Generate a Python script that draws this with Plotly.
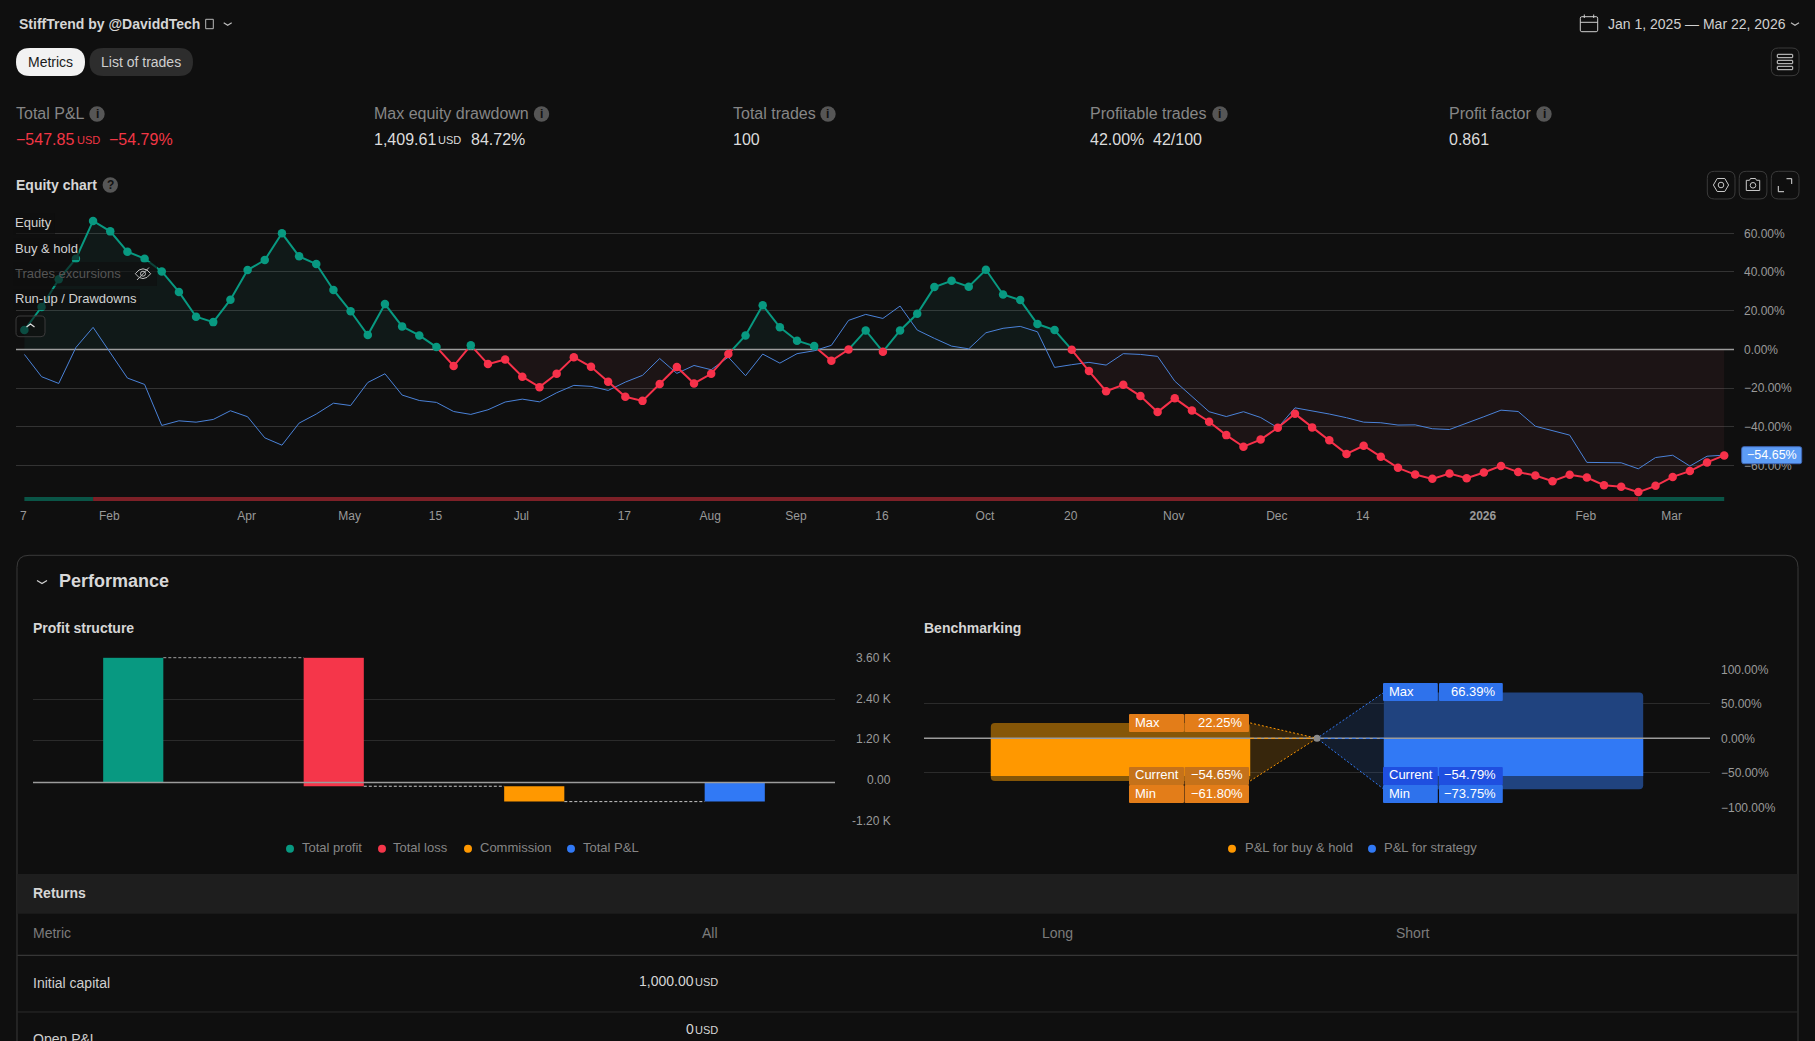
import numpy as np
import plotly.graph_objects as go

W, H = 1815, 1041
BG = "#0f0f0f"
GRID = "#333333"
GRID2 = "#2b2b2b"
ZERO = "#9c9c9c"
TICK = "#9a9a9a"
GREEN = "#089981"
RED = "#f7314a"
ORANGE = "#ff9800"
BLUE = "#3179f5"

# equity chart, one point per trade
equity = [10.0, 21.9, 36.2, 46.9, 66.39, 61.0, 50.5, 46.9, 40.3, 29.7,
          16.9, 14.1, 25.7, 41.0, 46.2, 60.0, 48.1, 44.1, 30.7, 19.7,
          7.4, 23.4, 11.9, 7.2, 1.2, -8.6, 2.1, -7.6, -5.2, -14.1,
          -19.5, -12.6, -4.0, -9.0, -16.7, -24.5, -26.6, -17.9, -9.1, -17.6,
          -12.6, -2.4, 7.2, 22.8, 11.4, 4.5, 1.7, -5.9, -0.1, 9.8,
          -1.2, 9.8, 18.4, 32.2, 35.5, 32.4, 41.2, 28.4, 25.5, 13.1,
          10.0, -0.2, -11.2, -21.6, -18.3, -24.1, -32.4, -25.3, -31.6, -37.4,
          -44.3, -50.3, -46.6, -40.5, -33.3, -40.3, -46.9, -54.0, -49.8, -55.5,
          -61.2, -64.7, -66.9, -64.1, -66.6, -63.6, -60.2, -63.4, -65.2, -68.1,
          -64.8, -66.2, -70.2, -71.0, -73.75, -70.5, -65.9, -62.9, -58.4, -54.79]
buy_hold = [-2.6, -14.1, -17.6, 1.0, 11.4, -1.7, -14.8, -18.1, -39.3, -36.9,
            -37.6, -36.2, -31.7, -34.8, -45.7, -49.5, -38.1, -33.4, -27.8, -29.0,
            -17.1, -12.6, -23.6, -26.4, -27.4, -32.1, -33.6, -31.2, -27.2, -25.7,
            -27.1, -22.4, -18.6, -19.1, -21.2, -16.9, -13.4, -4.7, -12.4, -8.3,
            -10.5, -4.0, -13.6, -2.4, -7.1, -2.2, -0.7, 2.1, 15.0, 18.1,
            16.0, 22.4, 10.0, 5.7, 1.7, 0.3, 8.6, 10.9, 11.9, 9.1,
            -9.3, -7.9, -6.7, -8.1, -2.2, -2.6, -3.6, -16.4, -24.5, -32.2,
            -34.7, -32.2, -35.2, -40.5, -30.2, -31.7, -33.4, -35.3, -37.6, -37.9,
            -39.1, -39.0, -41.0, -41.4, -38.3, -34.8, -31.4, -32.1, -39.7, -42.1,
            -44.3, -58.4, -58.6, -58.6, -61.7, -55.9, -54.7, -60.3, -55.2, -54.65]
trade_no = list(range(len(equity)))
date_ticks = [0, 5, 13, 19, 24, 29, 35, 40, 45, 50, 56, 61, 67, 73, 78, 85, 91, 96]
date_labels = ["7", "Feb", "Apr", "May", "15", "Jul", "17", "Aug", "Sep", "16", "Oct", "20",
               "Nov", "Dec", "14", "<b>2026</b>", "Feb", "Mar"]
pct_ticks = [60, 40, 20, 0, -20, -40, -60]
pct_labels = ["60.00%", "40.00%", "20.00%", "0.00%", "\u221220.00%", "\u221240.00%", "\u221260.00%"]
strip_start = [0, 4, 94]
strip_end = [4, 94, 99]
strip_colors = ["#0a5547", "#7d2027", "#0a5547"]

# profit structure
profit_names = ["Total profit", "Total loss", "Commission", "Total P&L"]
profit_base = [0, 3590, -106, 0]
profit_change = [3590, -3696, -442, -548]
profit_ticks = [3600, 2400, 1200, 0, -1200]
profit_labels = ["3.60 K", "2.40 K", "1.20 K", "0.00", "-1.20 K"]

# benchmarking
bench_hold = dict(max=22.25, cur=-54.65, min=-61.80)
bench_strat = dict(max=66.39, cur=-54.79, min=-73.75)
bench_ticks = [100, 50, 0, -50, -100]
bench_labels = ["100.00%", "50.00%", "0.00%", "\u221250.00%", "\u2212100.00%"]


def fx(x):
    return round(x / W, 6)


def fy(y):
    return round(1 - y / H, 6)


shapes = []
annotations = []
text_dy = 0


def text(x, y, s, size=14, color="#d6d6d6", anchor="left", bold=False):
    if bold:
        s = "<b>" + s + "</b>"
    annotations.append(dict(x=fx(x), y=fy(y + text_dy), xref="paper", yref="paper", text=s, showarrow=False,
                            xanchor=anchor, yanchor="middle", borderpad=0, borderwidth=0,
                            font=dict(size=size, color=color)))


def rrect(x0, y0, x1, y1, r=0, fill=None, line=None, width=1):
    p = (f"M{fx(x0 + r)},{fy(y0)} L{fx(x1 - r)},{fy(y0)} Q{fx(x1)},{fy(y0)} {fx(x1)},{fy(y0 + r)} "
         f"L{fx(x1)},{fy(y1 - r)} Q{fx(x1)},{fy(y1)} {fx(x1 - r)},{fy(y1)} "
         f"L{fx(x0 + r)},{fy(y1)} Q{fx(x0)},{fy(y1)} {fx(x0)},{fy(y1 - r)} "
         f"L{fx(x0)},{fy(y0 + r)} Q{fx(x0)},{fy(y0)} {fx(x0 + r)},{fy(y0)} Z")
    shapes.append(dict(type="path", path=p, xref="paper", yref="paper", layer="above",
                       fillcolor=fill or "rgba(0,0,0,0)",
                       line=dict(color=line or "rgba(0,0,0,0)", width=width if line else 0)))


def poly(pts, color="#cfcfcf", width=1, closed=False):
    p = "M" + " L".join(f"{fx(a)},{fy(b)}" for a, b in pts) + (" Z" if closed else "")
    shapes.append(dict(type="path", path=p, xref="paper", yref="paper", layer="above",
                       line=dict(color=color, width=width)))


def circle(cx, cy, r, fill=None, line=None, width=1):
    shapes.append(dict(type="circle", xref="paper", yref="paper", layer="above",
                       x0=fx(cx - r), x1=fx(cx + r), y0=fy(cy + r), y1=fy(cy - r),
                       fillcolor=fill or "rgba(0,0,0,0)",
                       line=dict(color=line or "rgba(0,0,0,0)", width=width if line else 0)))


def chevron(cx, cy, w=4, h=2.5, color="#bdbdbd", up=False):
    s = -1 if up else 1
    poly([(cx - w, cy - s * h / 2), (cx, cy + s * h / 2), (cx + w, cy - s * h / 2)], color, 1.2)


def split_sign(xs, ys):
    # cut the equity line at every zero crossing so it can change colour there
    pos_x, pos_y, neg_x, neg_y = [], [], [], []
    fill_x, fill_p, fill_n = [], [], []
    for i in range(len(xs)):
        y = ys[i]
        if i > 0 and ys[i - 1] * y < 0:
            cross = xs[i - 1] + (xs[i] - xs[i - 1]) * ys[i - 1] / (ys[i - 1] - y)
            if y > 0:
                neg_x += [cross, None]
                neg_y += [0, None]
                pos_x.append(cross)
                pos_y.append(0)
            else:
                pos_x += [cross, None]
                pos_y += [0, None]
                neg_x.append(cross)
                neg_y.append(0)
            fill_x.append(cross)
            fill_p.append(0)
            fill_n.append(0)
        if y > 0:
            pos_x.append(xs[i])
            pos_y.append(y)
        else:
            neg_x.append(xs[i])
            neg_y.append(y)
        fill_x.append(xs[i])
        fill_p.append(max(y, 0))
        fill_n.append(min(y, 0))
    return pos_x, pos_y, neg_x, neg_y, fill_x, fill_p, fill_n


fig = go.Figure()

# ---- equity chart
pos_x, pos_y, neg_x, neg_y, fill_x, fill_p, fill_n = split_sign(trade_no, equity)
fig.add_trace(go.Scatter(x=fill_x, y=fill_p, mode="none", fill="tozeroy", fillcolor="rgba(32,182,165,0.06)"))
fig.add_trace(go.Scatter(x=fill_x, y=fill_n, mode="none", fill="tozeroy", fillcolor="rgba(232,98,115,0.06)"))
fig.add_trace(go.Scatter(x=[-0.489, 99.57], y=[0, 0], mode="lines", line=dict(color=ZERO, width=1.5)))
fig.add_trace(go.Scatter(x=trade_no, y=buy_hold, mode="lines", line=dict(color="#4a82d8", width=1)))
fig.add_trace(go.Scatter(x=pos_x, y=pos_y, mode="lines", line=dict(color=GREEN, width=2)))
fig.add_trace(go.Scatter(x=neg_x, y=neg_y, mode="lines", line=dict(color=RED, width=2)))
up = np.array(equity) > 0
fig.add_trace(go.Scatter(x=np.array(trade_no)[up], y=np.array(equity)[up], mode="markers",
                         marker=dict(color=GREEN, size=8.5)))
fig.add_trace(go.Scatter(x=np.array(trade_no)[~up], y=np.array(equity)[~up], mode="markers",
                         marker=dict(color=RED, size=8.5)))
fig.add_trace(go.Bar(y=[0] * len(strip_start), base=strip_start,
                     x=[e - s for s, e in zip(strip_start, strip_end)], orientation="h", width=1,
                     marker=dict(color=strip_colors, line=dict(width=0)), xaxis="x", yaxis="y4"))

# ---- profit structure
prof_x = [0, 1, 2, 3]
prof_colors = [GREEN, "#f5364a", ORANGE, BLUE]
fig.add_trace(go.Bar(x=prof_x, y=profit_change, base=profit_base, width=0.3,
                     marker=dict(color=prof_colors, line=dict(width=0)), xaxis="x2", yaxis="y2"))
fig.add_trace(go.Scatter(x=[-0.5, 3.5], y=[0, 0], mode="lines", line=dict(color=ZERO, width=1.5),
                         xaxis="x2", yaxis="y2"))
levels = [profit_base[1], profit_base[2], profit_base[2] + profit_change[2]]
for i, lev in enumerate(levels):
    fig.add_trace(go.Scatter(x=[i + 0.15, i + 0.85], y=[lev, lev], mode="lines",
                             line=dict(color="#c8c8c8", width=1, dash="3px,2px"), xaxis="x2", yaxis="y2"))

# ---- benchmarking
half = 0.33
b_x = [0, 1]
fig.add_trace(go.Scatter(x=[half, 0.5, half], y=[bench_hold["max"], 0, bench_hold["min"]], mode="none",
                         fill="toself", fillcolor="rgba(255,152,0,0.17)", xaxis="x3", yaxis="y3"))
fig.add_trace(go.Scatter(x=[1 - half, 0.5, 1 - half], y=[bench_strat["max"], 0, bench_strat["min"]], mode="none",
                         fill="toself", fillcolor="rgba(49,121,245,0.13)", xaxis="x3", yaxis="y3"))
fig.add_trace(go.Bar(x=b_x, y=[bench_hold["max"] - bench_hold["min"], bench_strat["max"] - bench_strat["min"]],
                     base=[bench_hold["min"], bench_strat["min"]], width=0.66,
                     marker=dict(color=["#855607", "#20437f"], line=dict(width=0), cornerradius=4),
                     xaxis="x3", yaxis="y3"))
fig.add_trace(go.Bar(x=b_x, y=[bench_hold["cur"], bench_strat["cur"]], width=0.66,
                     marker=dict(color=[ORANGE, BLUE], line=dict(width=0)), xaxis="x3", yaxis="y3"))
fig.add_trace(go.Scatter(x=[-0.5, 1.5], y=[0, 0], mode="lines", line=dict(color=ZERO, width=1.5),
                         xaxis="x3", yaxis="y3"))
for side, vals, col in [(half, bench_hold, ORANGE), (1 - half, bench_strat, BLUE)]:
    for key in ("max", "min"):
        fig.add_trace(go.Scatter(x=[side, 0.5], y=[vals[key], 0], mode="lines",
                                 line=dict(color=col, width=1, dash="2px,2px"), xaxis="x3", yaxis="y3"))
    fig.add_trace(go.Scatter(x=[side, 0.5], y=[0, 0], mode="lines",
                             line=dict(color=col, width=1, dash="4px,3px"), xaxis="x3", yaxis="y3"))
fig.add_trace(go.Scatter(x=[0.5], y=[0], mode="markers", marker=dict(color="#8a8a8a", size=7),
                         xaxis="x3", yaxis="y3"))

# ---- header and kpi row
text(19, 24, "StiffTrend by @DaviddTech", 14, "#d6d6d6", bold=True)
rrect(205.7, 19.3, 213.3, 28.7, 0, None, "#b8b8b8", 1)
chevron(227.7, 24)
rrect(16, 48, 85, 76, 14, "#f2f2f2")
text(50.5, 62, "Metrics", 14, "#1a1a1a", "center")
rrect(89.5, 48, 193, 76, 14, "#2d2d2d")
text(141.2, 62, "List of trades", 14, "#cfcfcf", "center")

rrect(1580.3, 16.7, 1597.7, 31.7, 1.5, None, "#cfcfcf", 1)
poly([(1580.3, 22.3), (1597.7, 22.3)])
poly([(1584.3, 14.5), (1584.3, 18)])
poly([(1593.7, 14.5), (1593.7, 18)])
text(1608, 24, "Jan 1, 2025 \u2014 Mar 22, 2026", 14, "#d0d0d0")
chevron(1795, 24)

rrect(1771.3, 48, 1799, 75.7, 7, None, "#3a3a3a", 1)
for r0 in (54.3, 60.3, 66.3):
    rrect(1777.3, r0, 1792.7, r0 + 3.4, 0.5, None, "#d5d5d5", 1)

kpi_x = [16, 374.5, 732.9, 1090.5, 1449]
kpi_names = ["Total P&amp;L", "Max equity drawdown", "Total trades", "Profitable trades", "Profit factor"]
info_x = [97, 541.5, 828, 1220, 1544]
for x, name, ix in zip(kpi_x, kpi_names, info_x):
    text(x, 113.6, name, 16, "#868686")
    circle(ix, 114, 7.7, "#565656")
    text(ix, 114, "i", 12, "#111111", "center", bold=True)

NEG = "#f23645"
VAL = "#dcdcdc"
text(16, 139.6, "\u2212547.85", 16, NEG)
text(76.7, 140.5, "USD", 11, NEG)
text(109, 139.6, "\u221254.79%", 16, NEG)
text(374.5, 139.6, "1,409.61", 16, VAL)
text(438, 140.5, "USD", 11, VAL)
text(470.7, 139.6, "84.72%", 16, VAL)
text(732.9, 139.6, "100", 16, VAL)
text(1090.5, 139.6, "42.00%", 16, VAL)
text(1153, 139.6, "42/100", 16, VAL)
text(1449, 139.6, "0.861", 16, VAL)

text(16, 185, "Equity chart", 14, "#d6d6d6", bold=True)
circle(110.3, 185, 7.7, "#565656")
text(110.3, 185, "?", 12, "#111111", "center", bold=True)

for x0 in (1707.3, 1739.2, 1771.3):
    rrect(x0, 171.3, x0 + 27.7, 199, 7, None, "#3a3a3a", 1)
poly([(1713.4, 185), (1717.2, 178.5), (1724.8, 178.5), (1728.6, 185), (1724.8, 191.5), (1717.2, 191.5)],
     "#c8c8c8", 1, True)
circle(1721, 185, 2.8, None, "#c8c8c8")
poly([(1746.3, 180.3), (1749.5, 180.3), (1750.5, 178.5), (1755.5, 178.5), (1756.5, 180.3), (1759.7, 180.3),
      (1759.7, 190.5), (1746.3, 190.5)], "#c8c8c8", 1, True)
circle(1753, 185.3, 2.8, None, "#c8c8c8")
poly([(1786.5, 178.7), (1791.7, 178.7), (1791.7, 184)], "#dddddd", 1)
poly([(1778.3, 186), (1778.3, 191.7), (1784, 191.7)], "#dddddd", 1)

# ---- equity legend laid over the chart
DIM = "rgba(15,15,15,0.62)"
rrect(13, 213, 55, 235, 0, DIM)
rrect(13, 238, 79, 260, 0, DIM)
rrect(13, 262, 157, 286, 0, DIM)
rrect(13, 289, 140, 310, 0, DIM)
text(15.3, 223, "Equity", 13, "#d2d2d2")
text(15.3, 248.2, "Buy &amp; hold", 13, "#d2d2d2")
text(15.3, 273.2, "Trades excursions", 13, "#555555")
text(15.3, 298.2, "Run-up / Drawdowns", 13, "#d2d2d2")
# eye with a slash
poly([(135.3, 273.7), (139, 270), (143, 268.8), (147, 270), (150.7, 273.7), (147, 277.4), (143, 278.6),
      (139, 277.4)], "#c0c0c0", 1, True)
circle(143, 273.7, 2.5, None, "#c0c0c0")
poly([(137, 280), (149, 267.5)], "#c0c0c0", 1)
rrect(16, 316, 45, 336.7, 4, "rgba(15,15,15,0.55)", "#3c3c3c", 1)
chevron(30.5, 325.5, 4, 3, "#e0e0e0", up=True)

rrect(1741.7, 446.7, 1801.7, 463.7, 2, "#5d9cf5", "#3f67b5", 1)
text(1797, 455, "\u221254.65%", 12.5, "#ffffff", "right")

# ---- performance card
text_dy = -1
rrect(17, 555.3, 1798, 1100, 12, None, "#3a3a3a", 1)
chevron(42, 582, 5, 3.2, "#d0d0d0")
text(59, 582, "Performance", 18, "#d8d8d8", bold=True)
text(33, 629, "Profit structure", 14, "#d6d6d6", bold=True)
text(924, 629, "Benchmarking", 14, "#d6d6d6", bold=True)

legend_items = [(290, 302, "Total profit", GREEN), (382, 393.5, "Total loss", "#f5364a"),
                (468, 480, "Commission", ORANGE), (571, 583, "Total P&amp;L", BLUE),
                (1232, 1244.5, "P&amp;L for buy &amp; hold", ORANGE), (1372, 1384.4, "P&amp;L for strategy", BLUE)]
for cx, tx, name, col in legend_items:
    circle(cx, 848.7, 4, col)
    text(tx, 849, name, 13, "#868686")

# profit axis labels sit a little off their grid lines in the reference
for lab, y in zip(profit_labels, [658.3, 699.3, 739.3, 780.3, 820.6]):
    text(891, y + 1, lab, 12, TICK, "right")

# benchmarking value tags
cell_cols = [(1129, 1184, 1184.5, 1249, 1135.4, 1242.8, "#e37d19", "#c5721a"),
             (1383, 1437.8, 1439, 1502.8, 1389, 1496.4, "#2e72ec", "#1f4fe0")]
for (x0, x1, x2, x3, tl, tr, col, cur_col), vals, max_top in zip(cell_cols, (bench_hold, bench_strat), (714, 683)):
    for name, top, key, fill in [("Max", max_top, "max", col), ("Current", 767, "cur", cur_col), ("Min", 785, "min", col)]:
        rrect(x0, top, x1, top + 18, 1, fill)
        rrect(x2, top, x3, top + 18, 1, fill)
        text(tl, top + 9, name, 13, "#ffffff")
        text(tr, top + 9, f"{vals[key]:.2f}%".replace("-", "\u2212"), 13, "#ffffff", "right")

# ---- table
rrect(17.5, 874, 1797.5, 913.7, 0, "#1e1e1e")
text(33, 894, "Returns", 14, "#d6d6d6", bold=True)
text(33, 934, "Metric", 14, "#7c7c7c")
text(718, 934, "All", 14, "#7c7c7c", "right")
text(1073, 934, "Long", 14, "#7c7c7c", "right")
text(1430, 934, "Short", 14, "#7c7c7c", "right")
poly([(17.5, 955.3), (1797.5, 955.3)], "#404040", 1)
poly([(17.5, 1012), (1797.5, 1012)], "#2c2c2c", 1)
text(33, 984, "Initial capital", 14, "#d0d0d0")
text(694, 982, "1,000.00", 14, "#d6d6d6", "right")
text(718, 983, "USD", 11, "#d6d6d6", "right")
text(33, 1040, "Open P&amp;L", 14, "#d0d0d0")
text(694, 1030, "0", 14, "#d6d6d6", "right")
text(718, 1031, "USD", 11, "#d6d6d6", "right")

axis_common = dict(showgrid=False, zeroline=False, showline=False, ticks="")
grid_common = dict(showgrid=True, gridcolor=GRID2, gridwidth=1, zeroline=False, showline=False, ticks="",
                   tickfont=dict(size=12, color=TICK))

fig.update_layout(
    width=W,
    height=H,
    autosize=False,
    margin=dict(l=0, r=0, t=0, b=0, autoexpand=False),
    paper_bgcolor=BG,
    plot_bgcolor=BG,
    font=dict(family="Liberation Sans", color="#d6d6d6"),
    showlegend=False,
    barmode="overlay",
    shapes=shapes,
    annotations=annotations,
    xaxis=dict(domain=[fx(16), fx(1734)], range=[-0.489, 99.57], tickmode="array", tickvals=date_ticks,
               ticktext=date_labels, tickfont=dict(size=12, color=TICK), tickangle=0, ticklabelstandoff=4,
               ticklabelshift=-1, anchor="y", **axis_common),
    yaxis=dict(domain=[fy(503), fy(215)], range=[-79.38, 69.46], side="right", anchor="x", tickmode="array",
               tickvals=pct_ticks, ticktext=pct_labels, ticklabelstandoff=9, zeroline=False, showgrid=True,
               gridcolor=GRID, showline=False, ticks="", tickfont=dict(size=12, color=TICK)),
    yaxis4=dict(domain=[fy(501), fy(497)], range=[-0.5, 0.5], anchor="x", visible=False),
    xaxis2=dict(domain=[fx(33), fx(835)], range=[-0.5, 3.5], anchor="y2", showticklabels=False, **axis_common),
    yaxis2=dict(domain=[fy(824.3), fy(657.3)], range=[-1200, 3600], anchor="x2", side="right", showticklabels=False,
                tickmode="array", tickvals=profit_ticks, **grid_common),
    xaxis3=dict(domain=[fx(924), fx(1710)], range=[-0.5, 1.5], anchor="y3", showticklabels=False, **axis_common),
    yaxis3=dict(domain=[fy(807.3), fy(669.3)], range=[-100, 100], side="right", anchor="x3", tickmode="array",
                tickvals=bench_ticks, ticktext=bench_labels, ticklabelstandoff=10, **grid_common),
)

page_css = ("document.body.style.margin='0';document.body.style.background='#0f0f0f';"
            "document.documentElement.style.overflow='hidden';")
fig.write_html("out.html", config={"displayModeBar": False}, post_script=page_css)
